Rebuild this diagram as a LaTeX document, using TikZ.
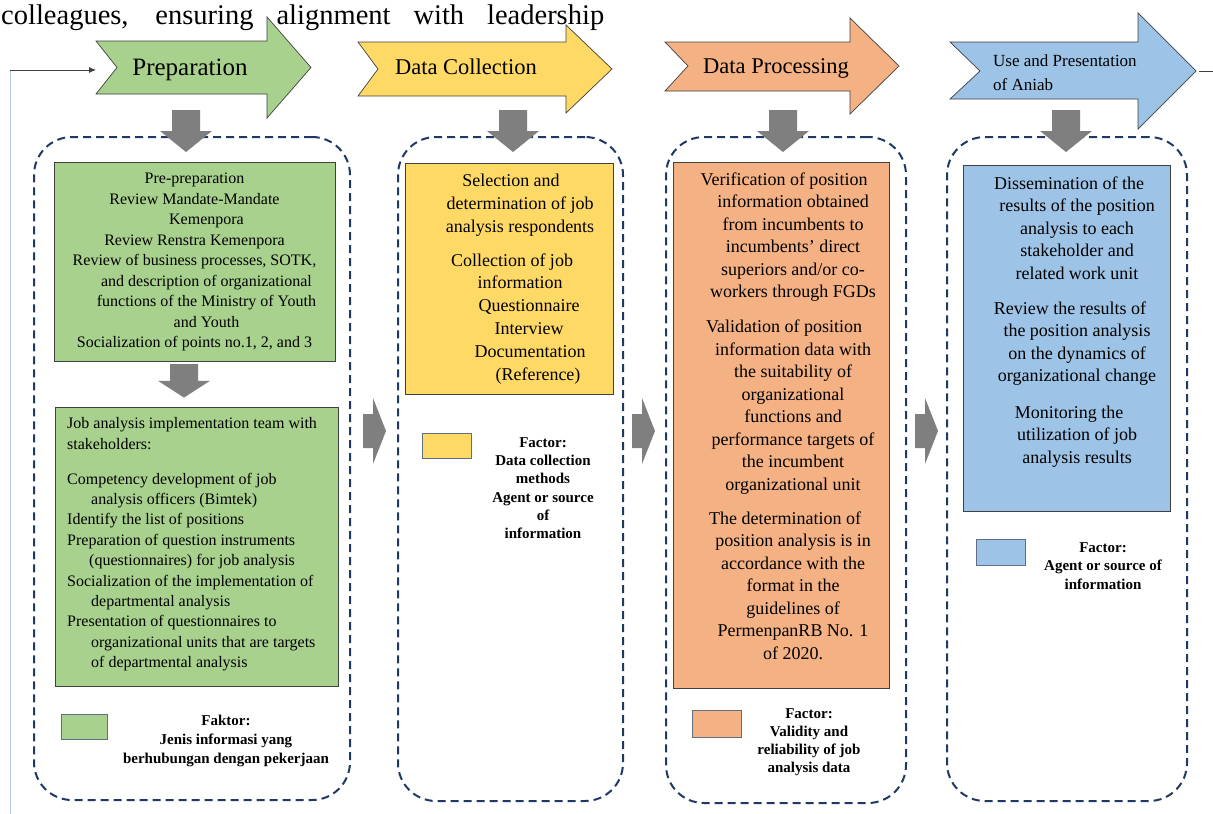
\documentclass[tikz,border=0pt]{standalone}
\usepackage{fontspec}
\setmainfont{Liberation Serif}
\usetikzlibrary{arrows.meta}
\definecolor{cgreen}{HTML}{A9D18E}
\definecolor{cyellow}{HTML}{FFD966}
\definecolor{corange}{HTML}{F4B183}
\definecolor{cblue}{HTML}{9DC3E6}
\definecolor{navy}{HTML}{203864}
\definecolor{blockgray}{HTML}{7F7F7F}
\definecolor{edgecol}{HTML}{404040}
\definecolor{legendedge}{HTML}{5F6F85}
\definecolor{paleblue}{HTML}{B4C7E7}
\begin{document}
\begin{tikzpicture}[x=1pt,y=-1pt,
  stage/.style={dash pattern=on 8pt off 5pt, draw=navy, line width=2pt, rounded corners=38pt, inner sep=0pt, anchor=north west},
  colbox/.style={draw=edgecol, line width=0.8pt, inner sep=0pt, anchor=north west},
  legbox/.style={draw=legendedge, line width=1.3pt, inner sep=0pt, anchor=north west},
  hdr/.style={draw=edgecol, line width=0.7pt, line join=miter},
  txt/.style={inner sep=0pt, align=center, anchor=north},
  legtxt/.style={inner sep=0pt, align=center, anchor=north},
  gdown/.pic={\fill[blockgray] (-14,0) -- (14,0) -- (14,21) -- (26,21) -- (0,42) -- (-26,21) -- (-14,21) -- cycle;},
  gright/.pic={\fill[blockgray] (0,-17) -- (10,-17) -- (10,-33) -- (23,0) -- (10,33) -- (10,17) -- (0,17) -- cycle;}
]
\useasboundingbox (0,0) rectangle (1213,814);
\clip (0,0) rectangle (1213,814);

% top line of text
\node[anchor=base west, inner sep=0pt, font=\fontsize{28.5}{33}\selectfont] (toptext) at (1,24)
  {\makebox[603pt][s]{colleagues, ensuring alignment with leadership}};

% header arrows
\draw[hdr, fill=cgreen] (96,41) -- (267,41) -- (267,17) -- (311,67.5) -- (267,118) -- (267,94) -- (96,94) -- (117,67.5) -- cycle;
\draw[hdr, fill=cyellow] (358,42) -- (566,42) -- (566,25) -- (612,69) -- (566,113) -- (566,96) -- (358,96) -- (378,69) -- cycle;
\draw[hdr, fill=corange] (665,42) -- (850,42) -- (850,18) -- (899,66) -- (850,114) -- (850,91) -- (665,91) -- (688,66) -- cycle;
\draw[hdr, fill=cblue] (950,42) -- (1138,42) -- (1138,13) -- (1196,71) -- (1138,129) -- (1138,99) -- (950,99) -- (980,71) -- cycle;

\node[inner sep=0pt, anchor=base, font=\fontsize{25}{30}\selectfont] (hprep) at (190,75) {Preparation};
\node[inner sep=0pt, anchor=base, font=\fontsize{22.5}{27}\selectfont] (hcoll) at (466,74) {Data Collection};
\node[inner sep=0pt, anchor=base, font=\fontsize{22.5}{27}\selectfont] (hproc) at (776,73) {Data Processing};
\node[inner sep=0pt, anchor=north west, align=left, font=\fontsize{17}{24}\selectfont] (huse) at (993,49.2) {\strut Use and Presentation\\ of Aniab};

% loop connector
\coordinate (loopstart) at (10,814);
\coordinate (loopcorner) at (10,70);
\coordinate (prepin) at (96,70);
\coordinate (usetip) at (1199,71);
\coordinate (loopout) at (1213,71);
\draw[paleblue, line width=0.8pt] (loopstart) -- (loopcorner);
\draw[edgecol, line width=0.8pt, -{Latex[length=7pt,width=6pt]}] (loopcorner) -- (prepin);
\draw[edgecol, line width=0.8pt] (usetip) -- (loopout);

% dashed stage containers
\node[stage, minimum width=316pt, minimum height=663pt] (c1) at (33,136) {};
\node[stage, minimum width=225pt, minimum height=664pt] (c2) at (397,136) {};
\node[stage, minimum width=240pt, minimum height=666pt] (c3) at (665,136) {};
\node[stage, minimum width=240pt, minimum height=664pt] (c4) at (946,136) {};

% coloured boxes
\node[colbox, fill=cgreen, minimum width=281pt, minimum height=199pt] (g1) at (54,162) {};
\node[colbox, fill=cgreen, minimum width=283pt, minimum height=279pt] (g2) at (55,407) {};
\node[colbox, fill=cyellow, minimum width=208pt, minimum height=231pt] (y1) at (405,163) {};
\node[colbox, fill=corange, minimum width=216pt, minimum height=526pt] (o1) at (673,162) {};
\node[colbox, fill=cblue, minimum width=207pt, minimum height=346pt] (b1) at (963,165) {};

% gray block arrows
\pic at (186,110) {gdown};
\pic at (513,110) {gdown};
\pic at (783,110) {gdown};
\pic at (1066,110) {gdown};
\pic[yscale=0.8] at (184,364) {gdown};
\pic at (363,431) {gright};
\pic at (632,431) {gright};
\pic at (915,431) {gright};

% box texts
\node[txt, font=\fontsize{16}{20.5}\selectfont] (t1) at (194.5,169.2) {\strut Pre-preparation\\ Review Mandate-Mandate\\ \hspace*{24pt}Kemenpora\\ Review Renstra Kemenpora\\ Review of business processes, SOTK,\\ \hspace*{24pt}and description of organizational\\ \hspace*{24pt}functions of the Ministry of Youth\\ \hspace*{24pt}and Youth\\ Socialization of points no.1, 2, and 3};

\node[inner sep=0pt, align=left, anchor=north west, font=\fontsize{16}{20.4}\selectfont] (t2) at (67,414.3) {\strut Job analysis implementation team with\\ stakeholders:\\[14.6pt] Competency development of job\\ \hspace*{24pt}analysis officers (Bimtek)\\ Identify the list of positions\\ Preparation of question instruments\\ \hspace*{22pt}(questionnaires) for job analysis\\ Socialization of the implementation of\\ \hspace*{24pt}departmental analysis\\ Presentation of questionnaires to\\ \hspace*{24pt}organizational units that are targets\\ \hspace*{24pt}of departmental analysis};

\node[txt, font=\fontsize{18}{22.8}\selectfont] (t3) at (520,170.3) {\strut\hspace*{-18pt}Selection and\\ determination of job\\ analysis respondents\\[11.2pt] \hspace*{-16pt}Collection of job\\ information\\ \hspace*{18pt}Questionnaire\\ \hspace*{18pt}Interview\\ \hspace*{20pt}Documentation\\ \hspace*{36pt}(Reference)};

\node[txt, font=\fontsize{18}{22.5}\selectfont] (t4) at (793,169.5) {\strut\hspace*{-18pt}Verification of position\\ information obtained\\ from incumbents to\\ incumbents' direct\\ superiors and/or co-\\ workers through FGDs\\[12.5pt] \hspace*{-18pt}Validation of position\\ information data with\\ the suitability of\\ organizational\\ functions and\\ performance targets of\\ the incumbent\\ organizational unit\\[11.5pt] \hspace*{-16pt}The determination of\\ position analysis is in\\ accordance with the\\ format in the\\ guidelines of\\ PermenpanRB No. 1\\ of 2020.};

\node[txt, font=\fontsize{18}{22.5}\selectfont] (t5) at (1077,173.5) {\strut\hspace*{-16pt}Dissemination of the\\ results of the position\\ analysis to each\\ stakeholder and\\ related work unit\\[12.5pt] \hspace*{-14pt}Review the results of\\ the position analysis\\ on the dynamics of\\ organizational change\\[14pt] \hspace*{-16pt}Monitoring the\\ utilization of job\\ analysis results};

% legends
\node[legbox, fill=cgreen, minimum width=46pt, minimum height=25pt] (lsq1) at (61,714) {};
\node[legbox, fill=cyellow, minimum width=49pt, minimum height=25pt] (lsq2) at (422,433) {};
\node[legbox, fill=corange, minimum width=49pt, minimum height=27pt] (lsq3) at (692,710) {};
\node[legbox, fill=cblue, minimum width=49pt, minimum height=26pt] (lsq4) at (976,539) {};

\node[legtxt, font=\fontsize{15}{19}\selectfont\bfseries] (lt1) at (226,712) {\strut Faktor:\\ Jenis informasi yang\\ berhubungan dengan pekerjaan};
\node[legtxt, font=\fontsize{15}{18.2}\selectfont\bfseries] (lt2) at (543,434.5) {\strut Factor:\\ Data collection\\ methods\\ Agent or source\\ of\\ information};
\node[legtxt, font=\fontsize{15}{18}\selectfont\bfseries] (lt3) at (809,705.6) {\strut Factor:\\ Validity and\\ reliability of job\\ analysis data};
\node[legtxt, font=\fontsize{15}{18.5}\selectfont\bfseries] (lt4) at (1103,539.3) {\strut Factor:\\ Agent or source of\\ information};
\end{tikzpicture}
\end{document}
